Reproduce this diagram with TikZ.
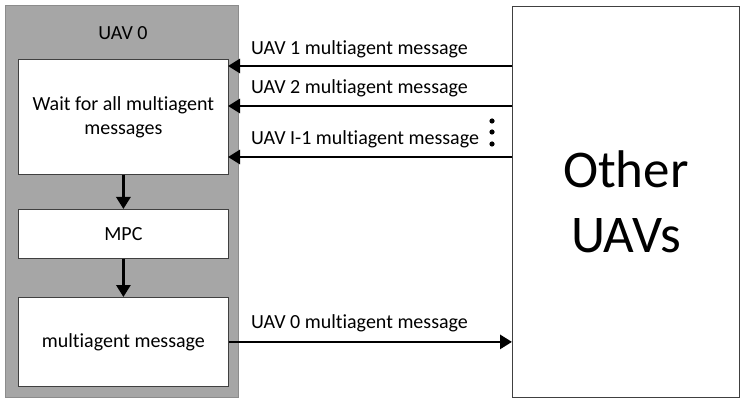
\documentclass[tikz,border=0pt]{standalone}
\usepackage{fontspec}
\setmainfont{Carlito}[Ligatures=NoCommon]
\usetikzlibrary{arrows.meta}
\begin{document}
\begin{tikzpicture}[x=1pt,y=-1pt,
  box/.style={draw=black!75,line width=0.8pt,fill=white,inner sep=0pt},
  conn/.style={line width=2.8pt,-{Triangle[length=12pt,width=14pt]}},
  txt/.style={font=\fontsize{20}{24}\selectfont},
  lbl/.style={txt,anchor=west,inner sep=0pt}]
\useasboundingbox (0,0) rectangle (746,403);
\node[draw=black!45,line width=0.8pt,fill=black!35,minimum width=233pt,minimum height=392pt,anchor=north west] (uav0) at (5,5) {};
\node[txt] (title) at (123,33) {UAV 0};
\node[box,txt,minimum width=210pt,minimum height=115pt,anchor=north west,align=center] (wait) at (18,59) {Wait for all multiagent\\messages};
\node[box,txt,minimum width=210pt,minimum height=49pt,anchor=north west] (mpc) at (18,209) {MPC};
\node[box,txt,minimum width=210pt,minimum height=89pt,anchor=north west] (msg) at (18,297) {multiagent message};
\node[box,minimum width=227pt,minimum height=391pt,anchor=north west,align=center,font=\fontsize{53}{65}\selectfont] (other) at (512,6) {Other\\UAVs};
\draw[conn] (wait.south) -- (mpc.north);
\draw[conn] (mpc.south) -- (msg.north);
\coordinate (a1) at (512,66);
\coordinate (a2) at (512,106);
\coordinate (a3) at (512,157);
\coordinate (b1) at (228,66);
\coordinate (b2) at (228,106);
\coordinate (b3) at (228,157);
\draw[conn] (a1) -- (b1);
\draw[conn] (a2) -- (b2);
\draw[conn] (a3) -- (b3);
\draw[conn] (msg.east) -- (msg.east -| other.west);
\node[lbl] (l1) at (251,49) {UAV 1 multiagent message};
\node[lbl] (l2) at (251,88) {UAV 2 multiagent message};
\node[lbl] (l3) at (251,139) {UAV I-1 multiagent message};
\node[lbl] (l0) at (251,323) {UAV 0 multiagent message};
\fill (492,121) circle (2.6pt) (492,132) circle (2.6pt) (492,144) circle (2.6pt);
\end{tikzpicture}
\end{document}
